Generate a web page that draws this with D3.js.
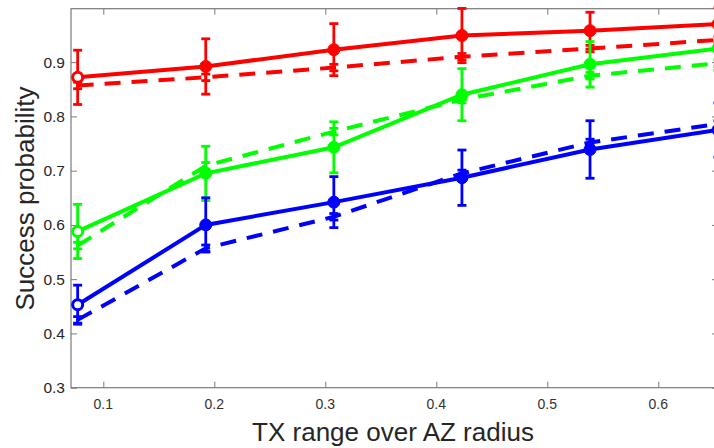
<!DOCTYPE html>
<html>
<head>
<meta charset="utf-8">
<script src="https://cdn.jsdelivr.net/npm/d3@7"></script>
<style>
  html, body { margin: 0; padding: 0; background: #fff; }
  svg { display: block; font-family: "Liberation Sans", Arial, sans-serif; }
</style>
</head>
<body>
<svg id="chart"></svg>
<script>
const xVals = [0.0769, 0.1923, 0.3077, 0.4231, 0.5385, 0.6538];
const xTicks = [0.1, 0.2, 0.3, 0.4, 0.5, 0.6];
const yTicks = [0.3, 0.4, 0.5, 0.6, 0.7, 0.8, 0.9];

const redSolid = [0.872, 0.892, 0.923, 0.949, 0.958, 0.970];
const redErr = [0.050, 0.051, 0.048, 0.050, 0.034, 0.030];
const redDash = [0.857, 0.872, 0.890, 0.910, 0.925, 0.941];

const greenSolid = [0.588, 0.695, 0.743, 0.840, 0.896, 0.925];
const greenErr = [0.050, 0.050, 0.047, 0.048, 0.042, 0.040];
const greenDash = [0.562, 0.709, 0.772, 0.831, 0.875, 0.898];

const blueSolid = [0.453, 0.600, 0.642, 0.687, 0.739, 0.775];
const blueErr = [0.036, 0.050, 0.047, 0.051, 0.053, 0.050];
const blueDash = [0.425, 0.557, 0.615, 0.695, 0.752, 0.786];

const dashErr = [0.006, 0.006, 0.006, 0.006, 0.006, 0.006];

const series = [
  { color: "#ff0000", solid: redSolid, err: redErr, dash: redDash },
  { color: "#00ff00", solid: greenSolid, err: greenErr, dash: greenDash },
  { color: "#0000ff", solid: blueSolid, err: blueErr, dash: blueDash }
];

const width = 714, height = 448;
const plot = { left: 71, right: 718, top: 8.7, bottom: 387.7 };

const svg = d3.select("#chart")
  .attr("width", width)
  .attr("height", height);

const x = d3.scaleLinear().domain([0.0709, 0.6538]).range([plot.left, plot.right]);
const y = d3.scaleLinear().domain([0.3, 0.9985]).range([plot.bottom, plot.top]);

const axisColor = "#7a7a7a";
const tickLen = 6;

// box
svg.append("rect")
  .attr("x", plot.left)
  .attr("y", plot.top)
  .attr("width", plot.right - plot.left)
  .attr("height", plot.bottom - plot.top)
  .style("fill", "none")
  .style("stroke", axisColor)
  .style("stroke-width", 1.2);

// x ticks (bottom and top, inward)
svg.append("g")
  .attr("transform", `translate(0,${plot.bottom})`)
  .call(d3.axisBottom(x).tickValues(xTicks).tickSize(-tickLen).tickFormat(""))
  .call(g => g.select(".domain").remove())
  .call(g => g.selectAll("line").style("stroke", axisColor));

svg.append("g")
  .attr("transform", `translate(0,${plot.top})`)
  .call(d3.axisTop(x).tickValues(xTicks).tickSize(-tickLen).tickFormat(""))
  .call(g => g.select(".domain").remove())
  .call(g => g.selectAll("line").style("stroke", axisColor));

// y ticks (left and right, inward)
svg.append("g")
  .attr("transform", `translate(${plot.left},0)`)
  .call(d3.axisLeft(y).tickValues(yTicks).tickSize(-tickLen).tickFormat(""))
  .call(g => g.select(".domain").remove())
  .call(g => g.selectAll("line").style("stroke", axisColor));

svg.append("g")
  .attr("transform", `translate(${plot.right},0)`)
  .call(d3.axisRight(y).tickValues(yTicks).tickSize(-tickLen).tickFormat(""))
  .call(g => g.select(".domain").remove())
  .call(g => g.selectAll("line").style("stroke", axisColor));

// tick labels
svg.append("g").selectAll("text")
  .data(xTicks)
  .join("text")
  .attr("x", d => x(d))
  .attr("y", 409)
  .attr("text-anchor", "middle")
  .style("font-size", "14px")
  .style("fill", "#333")
  .text(d => d3.format(".1f")(d));

svg.append("g").selectAll("text")
  .data(yTicks)
  .join("text")
  .attr("x", 65)
  .attr("y", d => y(d) + 5.5)
  .attr("text-anchor", "end")
  .style("font-size", "15.5px")
  .style("fill", "#262626")
  .text(d => d3.format(".1f")(d));

// axis titles
svg.append("text")
  .attr("x", 393)
  .attr("y", 441)
  .attr("text-anchor", "middle")
  .style("font-size", "26px")
  .style("fill", "#262626")
  .text("TX range over AZ radius");

svg.append("text")
  .attr("transform", "translate(34,198.5) rotate(-90)")
  .attr("text-anchor", "middle")
  .style("font-size", "26px")
  .style("fill", "#262626")
  .text("Success probability");

const line = d3.line()
  .x((d, i) => x(xVals[i]))
  .y(d => y(d));

const capW = 4.5;

function drawErrorBars(g, vals, errs, color) {
  const bars = g.append("g");
  vals.forEach((v, i) => {
    const cx = x(xVals[i]);
    const top = y(v + errs[i]);
    const bot = y(v - errs[i]);
    bars.append("line")
      .attr("x1", cx).attr("x2", cx)
      .attr("y1", top).attr("y2", bot);
    bars.append("line")
      .attr("x1", cx - capW).attr("x2", cx + capW)
      .attr("y1", top).attr("y2", top);
    bars.append("line")
      .attr("x1", cx - capW).attr("x2", cx + capW)
      .attr("y1", bot).attr("y2", bot);
  });
  bars.selectAll("line")
    .style("stroke", color)
    .style("stroke-width", 2.8);
}

const marks = svg.append("g");

series.forEach(s => {
  const g = marks.append("g");

  drawErrorBars(g, s.dash, dashErr, s.color);

  g.append("path")
    .datum(s.dash)
    .attr("d", line)
    .style("fill", "none")
    .style("stroke", s.color)
    .style("stroke-width", 4)
    .style("stroke-dasharray", "16,11");

  g.append("path")
    .datum(s.solid)
    .attr("d", line)
    .style("fill", "none")
    .style("stroke", s.color)
    .style("stroke-width", 4);

  drawErrorBars(g, s.solid, s.err, s.color);

  g.selectAll("circle")
    .data(s.solid)
    .join("circle")
    .attr("cx", (d, i) => x(xVals[i]))
    .attr("cy", d => y(d))
    .attr("r", (d, i) => i === 0 ? 5 : 6)
    .style("fill", (d, i) => i === 0 ? "#fff" : s.color)
    .style("stroke", s.color)
    .style("stroke-width", (d, i) => i === 0 ? 3 : 1);
});
</script>
</body>
</html>
